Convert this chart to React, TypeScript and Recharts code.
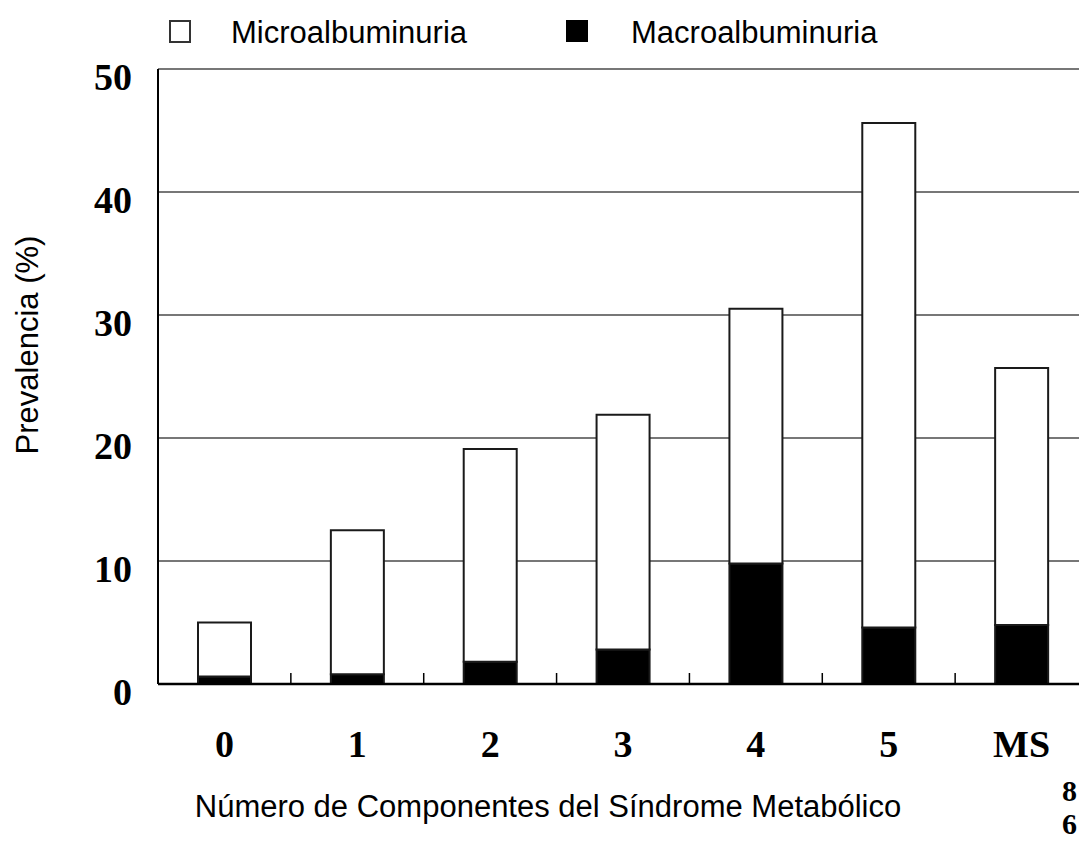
import { Bar, BarChart, CartesianGrid, XAxis, YAxis } from "recharts";

const categories = ["0", "1", "2", "3", "4", "5", "MS"];
const macroValues = [0.6, 0.8, 1.8, 2.8, 9.8, 4.6, 4.8];
const microValues = [4.4, 11.7, 17.3, 19.1, 20.7, 41.0, 20.9];
const yTicks = [0, 10, 20, 30, 40, 50];

const data = categories.map((c, i) => ({
  category: c,
  macro: macroValues[i],
  micro: microValues[i],
}));

const serif = "'Liberation Serif', 'Times New Roman', serif";
const sans = "'Liberation Sans', Arial, sans-serif";

function YTick({ x, y, payload }: any) {
  return (
    <text x={x - 26} y={y + 21} textAnchor="end" fontFamily={serif} fontWeight="bold" fontSize={38} fill="#000">
      {payload.value}
    </text>
  );
}

// label under each category + short upward tick at the right edge of its band
function XTick({ x, y, payload }: any) {
  const half = payload.offset ?? 0;
  return (
    <g>
      {half > 0 && (
        <line x1={x + half} x2={x + half} y1={y} y2={y - 11} stroke="#000" strokeWidth={1.5} />
      )}
      <text x={x} y={y + 73} textAnchor="middle" fontFamily={serif} fontWeight="bold" fontSize={38} fill="#000">
        {payload.value}
      </text>
    </g>
  );
}

export default function App() {
  return (
    <div style={{ position: "fixed", left: 0, top: 0, width: 1079, height: 841, overflow: "hidden", background: "#fff" }}>
      <BarChart
        width={1100}
        height={841}
        data={data}
        margin={{ top: 69, right: 12, bottom: 57, left: 0 }}
      >
        <CartesianGrid vertical={false} stroke="#4a4a4a" strokeWidth={1.5} />
        <XAxis
          dataKey="category"
          tickLine={false}
          tickSize={0}
          tickMargin={0}
          height={100}
          interval={0}
          axisLine={{ stroke: "#000", strokeWidth: 2.5 }}
          tick={<XTick />}
        />
        <YAxis
          width={158}
          domain={[0, 50]}
          ticks={yTicks}
          tickLine={false}
          tickSize={0}
          tickMargin={0}
          axisLine={{ stroke: "#000", strokeWidth: 2 }}
          tick={<YTick />}
        />
        <Bar dataKey="macro" stackId="a" fill="#000" stroke="#1a1a1a" strokeWidth={2} barSize={53} isAnimationActive={false} />
        <Bar dataKey="micro" stackId="a" fill="#fff" stroke="#1a1a1a" strokeWidth={2} barSize={53} isAnimationActive={false} />
      </BarChart>
      <svg
        width={1079}
        height={841}
        style={{ position: "absolute", left: 0, top: 0, pointerEvents: "none" }}
      >
        <rect x={170} y={21} width={20} height={21} fill="#fff" stroke="#333" strokeWidth={2} />
        <text x={231} y={43} fontFamily={sans} fontSize={31} fill="#000">Microalbuminuria</text>
        <rect x={566} y={20} width={22} height={22} fill="#000" />
        <text x={631} y={43} fontFamily={sans} fontSize={31} fill="#000">Macroalbuminuria</text>
        <text
          transform="translate(38,345) rotate(-90)"
          textAnchor="middle"
          fontFamily={sans}
          fontSize={31}
          fill="#000"
        >
          Prevalencia (%)
        </text>
        <text x={548} y={817} textAnchor="middle" fontFamily={sans} fontSize={31} fill="#000">
          Número de Componentes del Síndrome Metabólico
        </text>
        <text x={1062} y={801} fontFamily={serif} fontWeight="bold" fontSize={30} fill="#000">8</text>
        <text x={1062} y={834} fontFamily={serif} fontWeight="bold" fontSize={30} fill="#000">6</text>
      </svg>
    </div>
  );
}
